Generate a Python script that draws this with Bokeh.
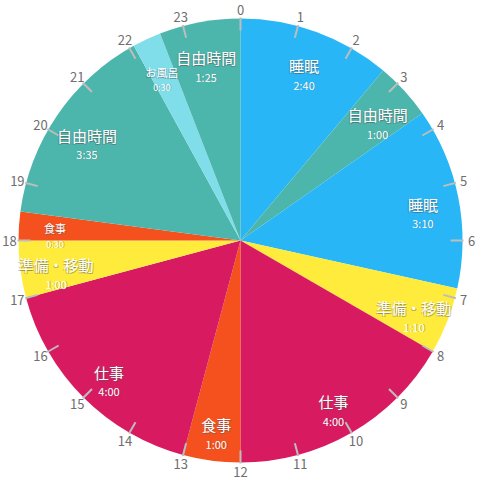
import numpy as np
from bokeh.plotting import figure
from bokeh.models import ColumnDataSource
from bokeh.core.properties import value
from bokeh.embed import file_html
from bokeh.resources import INLINE

# data (minutes, starting at 0:00, clockwise)
activities = ["睡眠", "自由時間", "睡眠", "準備・移動", "仕事", "食事", "仕事",
              "準備・移動", "食事", "自由時間", "お風呂", "自由時間"]
durations = [160, 60, 190, 70, 240, 60, 240, 60, 30, 215, 30, 85]
duration_labels = ["2:40", "1:00", "3:10", "1:10", "4:00", "1:00", "4:00",
                   "1:00", "0:30", "3:35", "0:30", "1:25"]
colors = ["#29B6F6", "#4DB6AC", "#29B6F6", "#FFEB3B", "#D81B60", "#F4511E",
          "#D81B60", "#FFEB3B", "#F4511E", "#4DB6AC", "#80DEEA", "#4DB6AC"]
hours = list(range(24))
hour_labels = [str(h) for h in hours]

FONT = value("Noto Sans CJK JP")
R = 222
TOTAL = 1440.0

dur = np.array(durations, dtype=float)
ends = np.cumsum(dur)
starts = ends - dur
mids = (starts + ends) / 2

def ang(t):
    return np.pi / 2 - t / TOTAL * 2 * np.pi

p = figure(width=480, height=480, x_range=(-240, 240), y_range=(-240, 240),
           output_backend="svg", toolbar_location=None, min_border=0)
p.axis.visible = False
p.grid.visible = False
p.outline_line_color = None
p.background_fill_color = "white"

src = ColumnDataSource(dict(start=ang(starts), end=ang(ends), color=colors))
p.wedge(x=0, y=0, radius=R, start_angle="start", end_angle="end",
        direction="clock", fill_color="color", line_color=None, source=src)

# hour ticks
ha = ang(np.array(hours) * 60.0)
p.segment(x0=210 * np.cos(ha), y0=210 * np.sin(ha),
          x1=223 * np.cos(ha), y1=223 * np.sin(ha),
          line_color="#bdbdbd", line_width=2)
p.text(x=231 * np.cos(ha), y=231 * np.sin(ha), text=hour_labels,
       text_font=FONT, text_font_size="13px", text_color="#6e6e6e",
       text_align="center", text_baseline="middle")

# segment labels
ma = ang(mids)
lx = 186 * np.cos(ma)
ly = 186 * np.sin(ma)
big = dur >= 60
name_sizes = ["15px" if b else "11px" for b in big]
time_sizes = ["11px" if b else "9px" for b in big]
time_off = [19 if b else 16 for b in big]
lsrc = ColumnDataSource(dict(x=lx, y=ly, name=activities, t=duration_labels,
                             ns=name_sizes, ts=time_sizes, to=time_off))

# soft gray halo behind the white labels
for dx, dy in [(1, 1), (-1, 1)]:
    p.text(x="x", y="y", text="name", source=lsrc, text_font=FONT,
           text_font_size="ns", text_color="#555555", text_alpha=0.35,
           text_align="center", text_baseline="middle", x_offset=dx, y_offset=dy)
p.text(x="x", y="y", text="t", source=lsrc, text_font=FONT,
       text_font_size="ts", text_color="#555555", text_alpha=0.4,
       text_align="center", text_baseline="middle", x_offset=1, y_offset="to")
p.text(x="x", y="y", text="name", source=lsrc, text_font=FONT,
       text_font_size="ns", text_color="white",
       text_align="center", text_baseline="middle")
p.text(x="x", y="y", text="t", source=lsrc, text_font=FONT,
       text_font_size="ts", text_color="white", y_offset="to",
       text_align="center", text_baseline="middle")

open("out.html", "w").write(file_html(p, INLINE))
